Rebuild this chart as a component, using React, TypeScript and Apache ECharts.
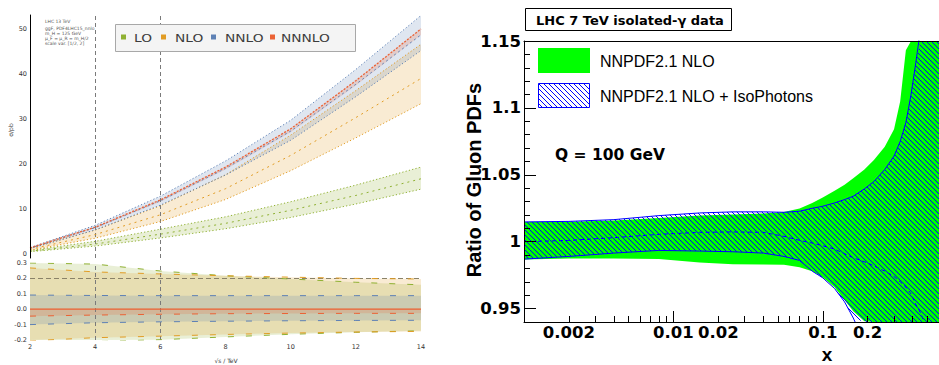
import React, { useEffect, useRef } from 'react';
import * as echarts from 'echarts';

// ---------------- Left panel: cross sections vs energy ----------------
const energyTeV = [2, 4, 6, 8, 10, 12, 14];
const energyTicks = [2, 4, 6, 8, 10, 12, 14];
const sigmaTicks = [0, 10, 20, 30, 40, 50];

const loCentral = [0.5, 2.1, 4.3, 6.7, 9.6, 12.9, 16.6];
const loUpper = [0.65, 2.7, 5.4, 8.15, 11.5, 15.2, 19.2];
const loLower = [0.4, 1.66, 3.45, 5.5, 8.0, 11.0, 14.3];
const nloCentral = [0.9, 4.2, 8.6, 14.4, 21.8, 30.2, 38.9];
const nloUpper = [1.14, 5.2, 10.6, 17.5, 26.3, 36.2, 46.5];
const nloLower = [0.72, 3.4, 7.1, 12.0, 18.4, 25.7, 33.3];
const nnloCentral = [1.2, 5.75, 11.7, 18.9, 27.2, 37.6, 48.6];
const nnloUpper = [1.31, 6.26, 12.73, 20.56, 29.6, 40.9, 52.9];
const nnloLower = [1.08, 5.24, 10.74, 17.43, 25.16, 34.86, 45.1];
const n3loCentral = [1.25, 5.85, 11.9, 19.2, 27.7, 38.4, 49.9];
const n3loUpper = [1.26, 5.87, 11.93, 19.26, 27.78, 38.52, 50.05];
const n3loLower = [1.19, 5.63, 11.5, 18.64, 26.92, 37.36, 48.55];

// relative uncertainties (lower panel)
const loRelUpper = [0.3, 0.293, 0.248, 0.217, 0.196, 0.175, 0.158];
const loRelLower = [-0.22, -0.21, -0.198, -0.18, -0.163, -0.15, -0.14];
const nloRelUpper = [0.268, 0.242, 0.229, 0.217, 0.208, 0.2, 0.196];
const nloRelLower = [-0.205, -0.185, -0.175, -0.164, -0.155, -0.148, -0.144];
const nnloRelUpper = [0.092, 0.089, 0.088, 0.088, 0.088, 0.088, 0.088];
const nnloRelLower = [-0.1, -0.088, -0.082, -0.078, -0.075, -0.073, -0.072];
const n3loRelUpper = [0.003, 0.003, 0.003, 0.003, 0.003, 0.003, 0.003];
const n3loRelLower = [-0.045, -0.038, -0.033, -0.029, -0.028, -0.027, -0.027];
const n3loRelCentral = [0, 0, 0, 0, 0, 0, 0];

const orderNames = ['LO', 'NLO', 'NNLO', 'NNNLO'];
const infoLines = ['LHC 13 TeV', 'ggF, PDF4LHC15_nnlo', 'm_H = 125 GeV', 'μ_F = μ_R = m_H/2', 'scale var. [1/2, 2]'];

// ---------------- Right panel: gluon PDF ratio ----------------
const pdfX = [0.001, 0.002, 0.004, 0.008, 0.015, 0.025, 0.04, 0.055, 0.07, 0.085, 0.1, 0.12, 0.14, 0.16, 0.19, 0.22, 0.26, 0.3, 0.33, 0.36, 0.39, 0.42, 0.45, 0.5, 0.6];
const nloUpperRatio = [1.0148, 1.015, 1.0158, 1.0178, 1.0195, 1.0203, 1.021, 1.0222, 1.0248, 1.029, 1.033, 1.038, 1.0425, 1.0475, 1.054, 1.061, 1.071, 1.084, 1.105, 1.143, 1.2, 1.26, 1.32, 1.4, 1.5];
const nloLowerRatio = [0.9867, 0.9875, 0.9875, 0.987, 0.9845, 0.9832, 0.983, 0.9828, 0.981, 0.978, 0.9735, 0.966, 0.9565, 0.948, 0.9405, 0.93, 0.92, 0.91, 0.9, 0.9, 0.9, 0.9, 0.9, 0.9, 0.9];
const isoUpperRatio = [1.0148, 1.0152, 1.0165, 1.0195, 1.0215, 1.0223, 1.0223, 1.022, 1.0228, 1.025, 1.0265, 1.029, 1.0315, 1.034, 1.0395, 1.045, 1.054, 1.064, 1.075, 1.089, 1.11, 1.134, 1.158, 1.2, 1.28];
const isoLowerRatio = [0.987, 0.989, 0.9915, 0.9935, 0.993, 0.9925, 0.9915, 0.989, 0.986, 0.978, 0.973, 0.965, 0.955, 0.943, 0.925, 0.9, 0.88, 0.88, 0.88, 0.88, 0.88, 0.88, 0.88, 0.88, 0.88];
const isoCentralRatio = [1.0, 1.001, 1.003, 1.0055, 1.007, 1.0073, 1.007, 1.004, 1.001, 0.999, 0.997, 0.9945, 0.991, 0.988, 0.985, 0.982, 0.978, 0.974, 0.97, 0.966, 0.961, 0.953, 0.947, 0.935, 0.92];
const ratioTicks = [0.95, 1.0, 1.05, 1.1, 1.15];
const xTickLabels = [0.002, 0.01, 0.02, 0.1, 0.2];

const cLO = '#8fb032';
const cNLO = '#e19c24';
const cNNLO = '#5e81b5';
const cN3LO = '#eb6235';

function fade(hex: string, a: number) {
  const r = parseInt(hex.slice(1, 3), 16);
  const g = parseInt(hex.slice(3, 5), 16);
  const b = parseInt(hex.slice(5, 7), 16);
  return `rgba(${r},${g},${b},${a})`;
}

function bandSeries(name: string, xs: number[], lower: number[], upper: number[], fill: any, axis: number, yMin: number, yMax: number, z: number) {
  return {
    type: 'custom',
    name,
    coordinateSystem: 'cartesian2d',
    xAxisIndex: axis,
    yAxisIndex: axis,
    clip: true,
    silent: true,
    z,
    data: xs.map((x, i) => [x, lower[i], upper[i]]),
    encode: { x: 0, y: [1, 2] },
    renderItem: (params: any, api: any) => {
      if (params.dataIndex !== 0) return null;
      const cl = (v: number) => Math.max(yMin, Math.min(yMax, v));
      const top = xs.map((x, i) => api.coord([x, cl(upper[i])]));
      const bottom = xs.map((x, i) => api.coord([x, cl(lower[i])])).reverse();
      return { type: 'polygon', shape: { points: top.concat(bottom) }, style: { fill, stroke: 'none' } };
    },
  };
}

function lineSeries(name: string, xs: number[], ys: number[], color: string, axis: number, type: any, width = 1, z = 5) {
  return {
    type: 'line',
    name,
    xAxisIndex: axis,
    yAxisIndex: axis,
    data: xs.map((x, i) => [x, ys[i]]),
    showSymbol: false,
    symbol: 'none',
    silent: true,
    clip: true,
    z,
    lineStyle: { color, width, type },
  };
}

export default function App() {
  const ref = useRef<HTMLDivElement>(null);

  useEffect(() => {
    if (!ref.current) return;
    const chart = echarts.init(ref.current, null, { renderer: 'svg' });

    // hatch pattern (ROOT-like "\\\\" fill)
    const cv = document.createElement('canvas');
    cv.width = 5;
    cv.height = 5;
    const ctx = cv.getContext('2d')!;
    ctx.strokeStyle = '#0000ff';
    ctx.lineWidth = 1;
    ctx.beginPath();
    ctx.moveTo(-1, -1); ctx.lineTo(6, 6);
    ctx.moveTo(-1, 4); ctx.lineTo(1, 6);
    ctx.moveTo(4, -1); ctx.lineTo(6, 1);
    ctx.stroke();
    const hatch: any = { image: cv, repeat: 'repeat' };

    const xLog = pdfX.map((v) => Math.log10(v));
    const xMinLog = -3;
    const xMaxLog = Math.log10(0.6);

    const minorX: number[] = [];
    for (let e = -3; e <= -1; e++) {
      for (let m = 2; m <= 9; m++) {
        const v = m * Math.pow(10, e);
        if (v <= 0.6) minorX.push(Math.log10(v));
      }
    }
    const minorY: number[] = [];
    for (let k = 94; k <= 115; k++) {
      if (k % 5 !== 0) minorY.push(k / 100);
    }

    const smallLabel = { fontSize: 6.5, color: '#333', fontFamily: 'DejaVu Sans' };
    const bigTick = { fontSize: 16.5, fontWeight: 'bold', color: '#000', fontFamily: 'DejaVu Sans' };
    const dot: any = [1.2, 2.2];
    const dash: any = [6, 12];

    const option: any = {
      animation: false,
      grid: [
        { left: 30, top: 15, width: 391, height: 243 },
        { left: 30, top: 263, width: 391, height: 77 },
        { left: 524, top: 41, width: 416, height: 281 },
      ],
      xAxis: [
        { type: 'value', gridIndex: 0, min: 2, max: 14, show: false },
        {
          type: 'value', gridIndex: 1, min: 2, max: 14, interval: 2,
          axisLine: { show: false }, axisTick: { show: false }, splitLine: { show: false },
          axisLabel: { ...smallLabel, margin: 3, customValues: energyTicks },
        },
        {
          type: 'value', gridIndex: 2, min: xMinLog, max: xMaxLog, position: 'bottom', z: 10,
          axisLine: { show: true, lineStyle: { color: '#000', width: 1 } },
          axisTick: { show: true, inside: true, length: 11, customValues: [-3, -2, -1], lineStyle: { color: '#000' } },
          axisLabel: {
            ...bigTick, margin: 2,
            customValues: xTickLabels.map((v) => Math.log10(v)),
            formatter: (v: number) => String(Number(Math.pow(10, v).toPrecision(2))),
          },
          splitLine: { show: false },
        },
        {
          type: 'value', gridIndex: 2, min: xMinLog, max: xMaxLog, position: 'bottom', z: 10,
          axisLine: { show: false },
          axisTick: { show: true, inside: true, length: 6, customValues: minorX, lineStyle: { color: '#000' } },
          axisLabel: { show: false }, splitLine: { show: false },
        },
        {
          type: 'value', gridIndex: 2, min: xMinLog, max: xMaxLog, position: 'top', z: 10,
          axisLine: { show: true, lineStyle: { color: '#000', width: 1 } },
          axisTick: { show: false }, axisLabel: { show: false }, splitLine: { show: false },
        },
      ],
      yAxis: [
        {
          type: 'value', gridIndex: 0, min: -1, max: 53, position: 'left', z: 10,
          axisLine: { show: true, lineStyle: { color: '#000', width: 1 } },
          axisTick: { show: false },
          axisLabel: { ...smallLabel, margin: 3, customValues: sigmaTicks },
          splitLine: { show: false },
        },
        {
          type: 'value', gridIndex: 1, min: -0.2, max: 0.3, interval: 0.1, position: 'left',
          axisLine: { show: false }, axisTick: { show: false }, splitLine: { show: false },
          axisLabel: {
            ...smallLabel, margin: 3,
            formatter: (v: number) => (Math.abs(v) < 1e-9 ? '0.0' : v.toFixed(1)),
          },
        },
        {
          type: 'value', gridIndex: 2, min: 0.94, max: 1.15, position: 'left', z: 10,
          axisLine: { show: true, lineStyle: { color: '#000', width: 1 } },
          axisTick: { show: true, inside: true, length: 12, customValues: ratioTicks, lineStyle: { color: '#000' } },
          axisLabel: {
            ...bigTick, margin: 3, customValues: ratioTicks,
            formatter: (v: number) => String(Number(v.toFixed(2))),
          },
          splitLine: { show: false },
        },
        {
          type: 'value', gridIndex: 2, min: 0.94, max: 1.15, position: 'left', z: 10,
          axisLine: { show: false },
          axisTick: { show: true, inside: true, length: 6, customValues: minorY, lineStyle: { color: '#000' } },
          axisLabel: { show: false }, splitLine: { show: false },
        },
      ],
      series: [
        // upper left bands
        bandSeries('LO band', energyTeV, loLower, loUpper, fade(cLO, 0.2), 0, -1, 53, 1),
        bandSeries('NLO band', energyTeV, nloLower, nloUpper, fade(cNLO, 0.2), 0, -1, 53, 1),
        bandSeries('NNLO band', energyTeV, nnloLower, nnloUpper, fade(cNNLO, 0.2), 0, -1, 53, 1),
        bandSeries('NNNLO band', energyTeV, n3loLower, n3loUpper, fade(cN3LO, 0.2), 0, -1, 53, 1),
        lineSeries('LO lo', energyTeV, loLower, cLO, 0, dot),
        lineSeries('LO hi', energyTeV, loUpper, cLO, 0, dot),
        lineSeries('LO', energyTeV, loCentral, cLO, 0, [2, 4]),
        lineSeries('NLO lo', energyTeV, nloLower, cNLO, 0, dot),
        lineSeries('NLO hi', energyTeV, nloUpper, cNLO, 0, dot),
        lineSeries('NLO', energyTeV, nloCentral, cNLO, 0, [2, 4]),
        lineSeries('NNLO lo', energyTeV, nnloLower, cNNLO, 0, dot),
        lineSeries('NNLO hi', energyTeV, nnloUpper, cNNLO, 0, dot),
        lineSeries('NNLO', energyTeV, nnloCentral, cNNLO, 0, [2, 3]),
        {
          ...lineSeries('NNNLO', energyTeV, n3loCentral, cN3LO, 0, [2, 1.5], 1.3),
          markLine: {
            silent: true, symbol: 'none', label: { show: false },
            lineStyle: { color: '#7a7a7a', type: [4, 3], width: 1 },
            data: [{ xAxis: 4 }, { xAxis: 6 }],
          },
        },
        // lower left relative bands
        bandSeries('LO rel', energyTeV, loRelLower, loRelUpper, fade(cLO, 0.2), 1, -0.2, 0.3, 1),
        bandSeries('NLO rel', energyTeV, nloRelLower, nloRelUpper, fade(cNLO, 0.2), 1, -0.2, 0.3, 1),
        bandSeries('NNLO rel', energyTeV, nnloRelLower, nnloRelUpper, fade(cNNLO, 0.2), 1, -0.2, 0.3, 1),
        bandSeries('NNNLO rel', energyTeV, n3loRelLower, n3loRelUpper, fade(cN3LO, 0.2), 1, -0.2, 0.3, 1),
        lineSeries('LO rel lo', energyTeV, loRelLower, cLO, 1, dash),
        lineSeries('LO rel hi', energyTeV, loRelUpper, cLO, 1, dash),
        lineSeries('NLO rel lo', energyTeV, nloRelLower, cNLO, 1, dash),
        lineSeries('NLO rel hi', energyTeV, nloRelUpper, cNLO, 1, dash),
        lineSeries('NNLO rel lo', energyTeV, nnloRelLower, cNNLO, 1, dash),
        lineSeries('NNLO rel hi', energyTeV, nnloRelUpper, cNNLO, 1, dash),
        lineSeries('NNNLO rel lo', energyTeV, n3loRelLower, cN3LO, 1, dash),
        {
          ...lineSeries('NNNLO rel', energyTeV, n3loRelCentral, cN3LO, 1, 'solid', 1.2, 6),
          markLine: {
            silent: true, symbol: 'none', label: { show: false },
            data: [
              { xAxis: 4, lineStyle: { color: '#7a7a7a', type: [4, 3], width: 1 } },
              { xAxis: 6, lineStyle: { color: '#7a7a7a', type: [4, 3], width: 1 } },
              { yAxis: 0.2, lineStyle: { color: '#8a8268', type: [5, 3], width: 1 } },
            ],
          },
        },
        // right panel
        bandSeries('NNPDF2.1 NLO', xLog, nloLowerRatio, nloUpperRatio, '#00ff00', 2, 0.94, 1.15, 2),
        bandSeries('NNPDF2.1 NLO + IsoPhotons', xLog, isoLowerRatio, isoUpperRatio, hatch, 2, 0.94, 1.15, 3),
        lineSeries('Iso upper', xLog, isoUpperRatio, '#0000ff', 2, 'solid', 1, 4),
        lineSeries('Iso lower', xLog, isoLowerRatio, '#0000ff', 2, 'solid', 1, 4),
        lineSeries('Iso central', xLog, isoCentralRatio, '#0000ff', 2, [4, 3], 1, 4),
      ],
      graphic: [
        // left legend
        { type: 'rect', shape: { x: 115.5, y: 24.5, width: 240, height: 27 }, style: { fill: '#f4f4f4', stroke: '#a8a8a8', lineWidth: 1 }, z: 20 },
        ...[cLO, cNLO, cNNLO, cN3LO].map((c, i) => ({
          type: 'rect', z: 21, shape: { x: [121, 161, 211, 270][i], y: 34.5, width: 5, height: 5 }, style: { fill: c },
        })),
        ...orderNames.map((n, i) => ({
          type: 'text', z: 21, x: [134, 175, 225, 281][i], y: 38, scaleX: 1.25,
          style: { text: n, fill: '#3c3c3c', fontSize: 11, fontFamily: 'DejaVu Sans', verticalAlign: 'middle' },
        })),
        ...infoLines.map((t, i) => ({
          type: 'text', z: 21, x: 45, y: [21.5, 28, 33, 38, 43][i],
          style: { text: t, fill: '#555', fontSize: 4.5, fontFamily: 'DejaVu Sans', verticalAlign: 'middle' },
        })),
        {
          type: 'text', x: 10, y: 130, rotation: Math.PI / 2,
          style: { text: 'σ/pb', fill: '#333', fontSize: 6, fontFamily: 'DejaVu Sans', align: 'center', verticalAlign: 'middle' },
        },
        {
          type: 'text', x: 226, y: 360,
          style: { text: '√s / TeV', fill: '#333', fontSize: 6, fontFamily: 'DejaVu Sans', align: 'center', verticalAlign: 'middle' },
        },
        // right panel title box
        { type: 'rect', shape: { x: 525.5, y: 8.5, width: 206, height: 22 }, style: { fill: '#fff', stroke: '#000', lineWidth: 1 } },
        {
          type: 'text', x: 536, y: 20,
          style: { text: 'LHC 7 TeV isolated-γ data', fill: '#000', fontSize: 13, fontWeight: 'bold', fontFamily: 'DejaVu Sans', verticalAlign: 'middle' },
        },
        // right legend
        { type: 'rect', z: 20, shape: { x: 538, y: 48, width: 52, height: 25 }, style: { fill: '#00ff00' } },
        { type: 'rect', z: 20, shape: { x: 538.5, y: 83.5, width: 51, height: 24 }, style: { fill: hatch, stroke: '#0000ff', lineWidth: 1 } },
        {
          type: 'text', z: 20, x: 600, y: 61,
          style: { text: 'NNPDF2.1 NLO', fill: '#000', fontSize: 16, fontFamily: 'Liberation Sans', verticalAlign: 'middle' },
        },
        {
          type: 'text', z: 20, x: 600, y: 96,
          style: { text: 'NNPDF2.1 NLO + IsoPhotons', fill: '#000', fontSize: 16, fontFamily: 'Liberation Sans', verticalAlign: 'middle' },
        },
        {
          type: 'text', z: 20, x: 555, y: 155,
          style: { text: 'Q = 100 GeV', fill: '#000', fontSize: 15.5, fontWeight: 'bold', fontFamily: 'DejaVu Sans', verticalAlign: 'middle' },
        },
        {
          type: 'text', x: 474, y: 180, rotation: Math.PI / 2,
          style: { text: 'Ratio of Gluon PDFs', fill: '#000', fontSize: 20, fontWeight: 'bold', fontFamily: 'Liberation Sans', align: 'center', verticalAlign: 'middle' },
        },
        {
          type: 'text', x: 827, y: 354,
          style: { text: 'x', fill: '#000', fontSize: 19, fontWeight: 'bold', fontFamily: 'Liberation Sans', align: 'center', verticalAlign: 'middle' },
        },
      ],
    };

    chart.setOption(option);
    return () => chart.dispose();
  }, []);

  return <div ref={ref} style={{ position: 'fixed', left: 0, top: 0, width: 939, height: 365, background: '#fff' }} />;
}
